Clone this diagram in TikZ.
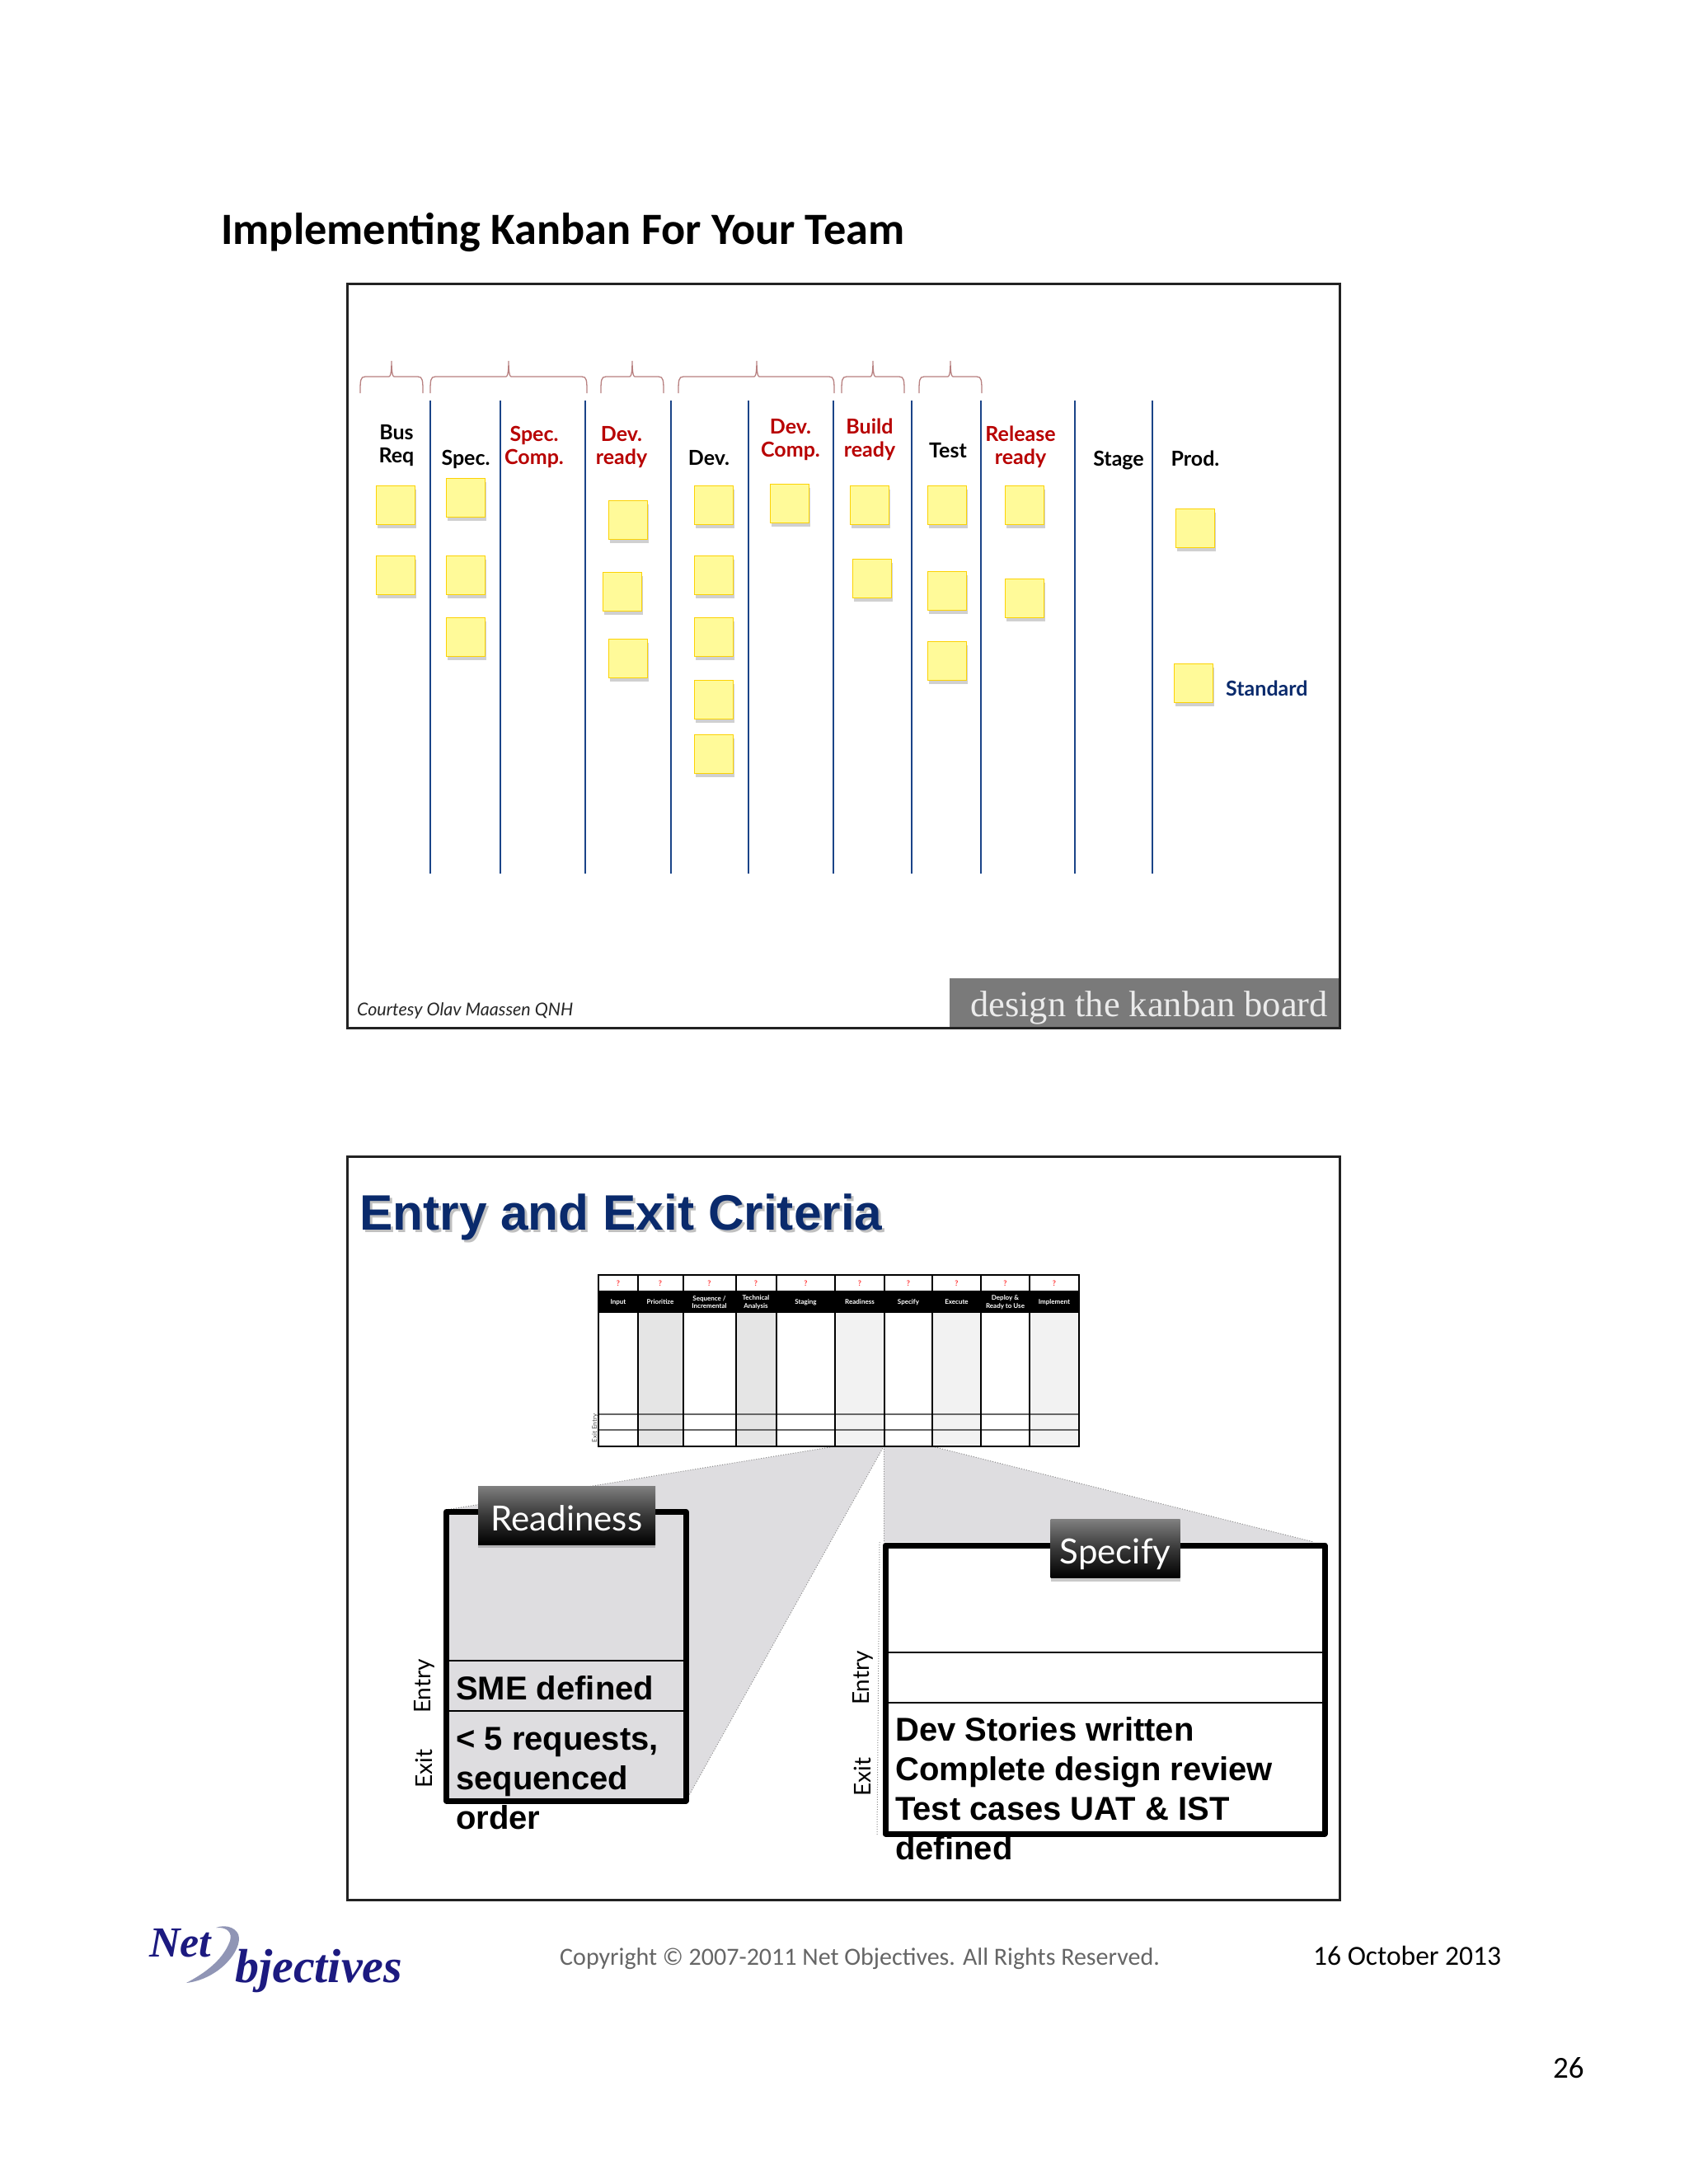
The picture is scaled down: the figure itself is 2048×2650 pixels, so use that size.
\documentclass[tikz,border=0pt]{standalone}
\usepackage{fontspec}
\usetikzlibrary{shadows}
\setmainfont{Lato}
\newfontfamily\calibri{Carlito}
\newfontfamily\arialf{Liberation Sans}
\newfontfamily\timesf{Liberation Serif}
\definecolor{navyc}{HTML}{0A2A6C}
\definecolor{redc}{HTML}{B80000}
\definecolor{linec}{HTML}{1A4488}
\definecolor{bracec}{HTML}{B88080}
\definecolor{wedgec}{HTML}{DEDDE0}
\definecolor{frmc}{HTML}{222222}
\definecolor{logoc}{HTML}{1C1A80}
\definecolor{swooshc}{HTML}{9095B5}
\tikzset{
  frm/.style={draw=frmc,line width=3pt},
  sticky/.style={draw=yellow!70!orange,fill=yellow!40!white,line width=1.5pt,minimum size=47pt,inner sep=0pt,
    drop shadow={shadow xshift=1.5pt,shadow yshift=-4pt,opacity=.3,fill=black!60}},
  lbl/.style={inner sep=0pt,anchor=base,align=center,font=\fontsize{25}{27.5}\selectfont\bfseries},
  lblk/.style={lbl,text=black},
  lblr/.style={lbl,text=redc},
  vline/.style={draw=linec,line width=2pt},
  bracep/.style={draw=bracec,line width=1.3pt},
  critbox/.style={draw=black,line width=7pt,line join=round},
  tabn/.style={inner sep=0pt,top color=black!50,bottom color=black,middle color=black!78,text=white,
    font=\fontsize{42}{42}\selectfont,minimum width=#1,minimum height=71pt,text height=37pt,text depth=0pt,
    drop shadow={shadow xshift=0pt,shadow yshift=-4pt,opacity=.35,fill=black!60}},
  crit/.style={inner sep=0pt,anchor=base west,align=left,font=\arialf\fontsize{40}{47.7}\selectfont\bfseries},
  side/.style={inner sep=0pt,rotate=90,font=\fontsize{28}{28}\selectfont},
  hdr/.style={inner sep=0pt,text=white,align=center,font=\fontsize{8}{9.5}\selectfont\bfseries},
  qm/.style={inner sep=0pt,text=red!80!white,font=\fontsize{9}{9}\selectfont\bfseries},
  wedge/.style={fill=wedgec},
  dot/.style={draw=black!45,line width=1pt,dotted},
}
\begin{document}
\begin{tikzpicture}[x=1pt,y=-1pt]
\useasboundingbox (0,0) rectangle (2048,2650);
\fill[white] (0,0) rectangle (2048,2650);
% title
\node[inner sep=0pt,anchor=base west,font=\calibri\fontsize{54.3}{55}\selectfont\bfseries] (title) at (268,296) {Implementing Kanban For Your Team};
% frames
\draw[frm] (421,344) rectangle (1625,1247);
\draw[frm] (421,1403) rectangle (1625,2305);
% braces
\foreach \l/\c/\r in {437/475/513,522/617/712,729/767/805,823/918/1012,1021/1059/1097,1115/1153/1191}{
  \draw[bracep] (\l,477) .. controls (\l,462) and (\l,457) .. (\l+6,457) -- (\c-3,457)
     .. controls (\c-1,457) and (\c,450) .. (\c,438) .. controls (\c,450) and (\c+1,457) .. (\c+3,457)
     -- (\r-6,457) .. controls (\r,457) and (\r,462) .. (\r,477);
}
% column lines
\foreach \x in {522,607,710,814,908,1011,1106,1190,1304,1398}{
  \draw[vline] (\x,486) -- (\x,1060);
}
% labels (the anchor is the baseline of the last line)
\node[lblk] (lbus) at (481,561) {Bus\\Req};
\node[lblk] (lspec) at (565,564) {Spec.};
\node[lblr] (lspecc) at (648,563) {Spec.\\Comp.};
\node[lblr] (ldevr) at (754,563) {Dev.\\ready};
\node[lblk] (ldev) at (860,564) {Dev.};
\node[lblr] (ldevc) at (959,554) {Dev.\\Comp.};
\node[lblr] (lbuild) at (1055,554) {Build\\ready};
\node[lblk] (ltest) at (1150,555) {Test};
\node[lblr] (lrel) at (1238,563) {Release\\ready};
\node[lblk] (lstage) at (1357,565) {Stage};
\node[lblk] (lprod) at (1450,565) {Prod.};
% stickies
\foreach \x/\y [count=\i] in {480/613,480/698,565/604,565/698,565/773,762/631,755/718,762/799,866/613,866/698,866/773,866/849,866/915,958/611,1055/613,1058/702,1149/613,1149/717,1149/802,1243/613,1243/726,1450/641,1448/829}{
  \node[sticky] (s\i) at (\x,\y) {};
}
\node[inner sep=0pt,anchor=base west,text=navyc,font=\fontsize{25}{25}\selectfont\bfseries] (lstd) at (1487,844) {Standard};
% courtesy and band
\node[inner sep=0pt,anchor=base west,text=black!85,font=\fontsize{21.5}{22}\selectfont\itshape] (court) at (433,1232) {Courtesy Olav Maassen QNH};
\fill[black!52] (1152,1187) rectangle (1624,1246);
\node[inner sep=0pt,anchor=base east,text=white!92!black,font=\timesf\fontsize{44.5}{45}\selectfont] (dtk) at (1611,1233) {design the kanban board};
% second slide title
\node[inner sep=0pt,anchor=base west,text=black!35,opacity=.7,font=\arialf\fontsize{60.4}{62}\selectfont\bfseries] (ectitleshadow) at (439,1495) {Entry and Exit Criteria};
\node[inner sep=0pt,anchor=base west,text=navyc,font=\arialf\fontsize{60.4}{62}\selectfont\bfseries] (ectitle) at (436,1492) {Entry and Exit Criteria};
% wedges
\fill[wedge] (1013,1755) -- (541,1832) -- (541,2180) -- (835,2180) -- (1072,1755) -- cycle;
\fill[wedge] (1072,1755) -- (1131,1755) -- (1594,1871) -- (1072,1871) -- cycle;
\draw[dot] (1013,1755) -- (541,1832);
\draw[dot] (835,2180) -- (1072,1755) -- (1131,1755) -- (1594,1871);
\draw[dot] (1072,1755) -- (1072,1871);
\draw[dot] (1067,1871) -- (1064,2226);
% mini board
\foreach \a/\b in {774/828.5,892.6/942}{\fill[black!10] (\a,1593) rectangle (\b,1755);}
\foreach \a/\b in {1013/1072.5,1131/1190,1249/1309}{\fill[black!5] (\a,1593) rectangle (\b,1755);}
\fill[black] (726,1566) rectangle (1309,1593);
\foreach \y in {1716,1735}{\draw[black!60,line width=1.5pt] (726,\y) -- (1309,\y);}
\foreach \x in {774,828.5,892.6,942,1013,1072.5,1131,1190,1249}{\draw[black,line width=2pt] (\x,1547) -- (\x,1755);}
\draw[black,line width=2.5pt] (726,1547) rectangle (1309,1755);
\foreach \x/\t [count=\i] in {750/Input,801/Prioritize,860.5/{Sequence /\\Incremental},917/{Technical\\Analysis},977.5/Staging,1043/Readiness,1102/Specify,1160.5/Execute,1219.5/{Deploy \&\\Ready to Use},1279/Implement}{
  \node[qm] (q\i) at (\x,1557) {?};
  \node[hdr] (h\i) at (\x,1580) {\t};
}
\node[inner sep=0pt,rotate=90,text=black!70,font=\fontsize{8}{8}\selectfont] (miniee) at (722,1733) {Exit Entry};
% readiness box
\draw[critbox,fill=wedgec,drop shadow={shadow xshift=2pt,shadow yshift=-3pt,opacity=.3,fill=black!60}] (541.5,1834.5) rectangle (832,2185);
\draw[black,line width=2pt] (541.5,2015) -- (832,2015);
\draw[black,line width=2pt] (541.5,2076) -- (832,2076);
\node[tabn=215pt] (rtab) at (687.5,1838.5) {Readiness};
\node[crit] (rentry) at (553,2062) {SME defined};
\node[crit] (rexit) at (553,2219) {< 5 requests,\\sequenced\\order};
\node[side] (re) at (515,2046) {Entry};
\node[side] (rx) at (514,2146) {Exit};
% specify box
\draw[critbox,fill=white] (1074,1875) rectangle (1607,2225);
\draw[black,line width=2pt] (1074,2005) -- (1607,2005);
\draw[black,line width=2pt] (1074,2066) -- (1607,2066);
\node[tabn=157pt] (stab) at (1353,1879) {Specify};
\node[crit] (sexit) at (1086,2256) {Dev Stories written\\Complete design review\\Test cases UAT \& IST\\defined};
\node[side] (se) at (1047,2036) {Entry};
\node[side] (sx) at (1046,2156) {Exit};
% logo
\fill[swooshc] (226,2406) .. controls (262,2402) and (290,2372) .. (290,2352) .. controls (290,2340) and (275,2334) .. (262,2339) .. controls (276,2338) and (282,2345) .. (279,2355) .. controls (270,2380) and (245,2396) .. (226,2406) -- cycle;
\node[inner sep=0pt,anchor=base west,text=logoc,font=\timesf\fontsize{52}{54}\selectfont\itshape\bfseries] (lognet) at (181,2374) {Net};
\node[inner sep=0pt,anchor=base west,text=logoc,font=\timesf\fontsize{58}{62}\selectfont\itshape\bfseries] (logobj) at (285,2405) {bjectives};
% footer
\node[inner sep=0pt,anchor=base west,text=black!60,font=\calibri\fontsize{30}{30}\selectfont] (copy) at (679,2384) {Copyright © 2007-2011 Net Objectives. All Rights Reserved.};
\node[inner sep=0pt,anchor=base west,font=\calibri\fontsize{33.5}{34}\selectfont] (date) at (1593,2384) {16 October 2013};
\node[inner sep=0pt,anchor=base west,font=\calibri\fontsize{37}{37}\selectfont] (page) at (1884,2521) {26};
\end{tikzpicture}
\end{document}
